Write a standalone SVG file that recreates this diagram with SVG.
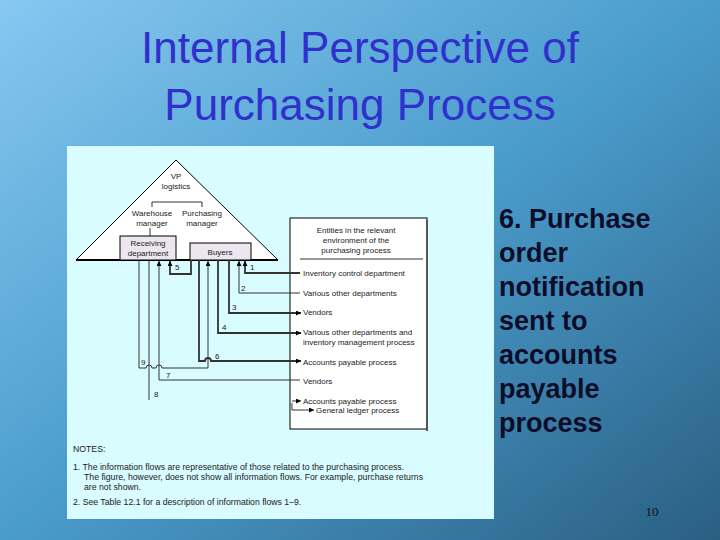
<svg xmlns="http://www.w3.org/2000/svg" width="720" height="540" viewBox="0 0 720 540">
<defs>
<linearGradient id="bg" x1="0" y1="0" x2="1" y2="1">
<stop offset="0" stop-color="#86c8f0"/><stop offset="0.5" stop-color="#4a9ccc"/><stop offset="1" stop-color="#2a5f82"/>
</linearGradient>
<marker id="ah" viewBox="0 0 6 6" refX="6" refY="3" markerWidth="6" markerHeight="5" markerUnits="userSpaceOnUse" orient="auto"><path d="M0,0L6,3L0,6z" fill="#000"/></marker>
</defs>
<style>
.t{font-family:"Liberation Sans",Arial,sans-serif;fill:#222;font-size:8px}
.n{font-size:8.7px}
.c{text-anchor:middle}
.f{fill:none;stroke:#333;stroke-width:1}
.th{stroke-width:1.8}
.a{marker-end:url(#ah)}
.title{font-family:"Liberation Sans",Arial,sans-serif;font-size:44px;fill:#3030cc;text-anchor:middle}
.side{font-family:"Liberation Sans",Arial,sans-serif;font-size:27px;font-weight:bold;fill:#0d0d2a}
</style>
<rect width="720" height="540" fill="url(#bg)"/>
<text class="title" x="360" y="63">Internal Perspective of</text>
<text class="title" x="360" y="120">Purchasing Process</text>
<rect x="67" y="146" width="427" height="373" fill="#d8fcff"/>
<g id="org">
<path d="M176,160 L278,260 L76,260 Z" fill="#fff" stroke="#000" stroke-width="1"/>
<line x1="76" y1="260" x2="278" y2="260" stroke="#000" stroke-width="2"/>
<text class="t c" x="176" y="179">VP</text><text class="t c" x="176" y="189">logistics</text>
<path class="f" d="M152,207 V202 H202 V207"/>
<text class="t c" x="152" y="216">Warehouse</text><text class="t c" x="152" y="226">manager</text>
<text class="t c" x="202" y="216">Purchasing</text><text class="t c" x="202" y="226">manager</text>
<line class="f" x1="150" y1="228" x2="150" y2="236"/>
</g>
<g id="receiving"><rect x="120" y="236" width="56" height="24" fill="#ece6ee" stroke="#000"/>
<text class="t c" x="148" y="246">Receiving</text><text class="t c" x="148" y="256">department</text></g>
<g id="buyers"><rect x="190" y="243" width="61" height="17" fill="#ece6ee" stroke="#000"/>
<text class="t c" x="220" y="255">Buyers</text></g>
<g id="entities">
<rect x="290" y="218" width="137" height="211" fill="#fff" stroke="#000"/>
<line x1="427" y1="220" x2="427" y2="431" stroke="#555" stroke-width="2"/>
<text class="t c" x="356" y="233">Entities in the relevant</text>
<text class="t c" x="356" y="243">environment of the</text>
<text class="t c" x="356" y="253">purchasing process</text>
<line class="f" x1="300" y1="259" x2="423" y2="259"/>
<text class="t" x="303" y="276">Inventory control department</text>
<text class="t" x="303" y="296">Various other departments</text>
<text class="t" x="303" y="315">Vendors</text>
<text class="t" x="303" y="335">Various other departments and</text>
<text class="t" x="303" y="345">inventory management process</text>
<text class="t" x="303" y="365">Accounts payable process</text>
<text class="t" x="303" y="384">Vendors</text>
<text class="t" x="303" y="404">Accounts payable process</text>
<text class="t" x="316" y="413">General ledger process</text>
</g>
<g id="connectors">
<path class="f th a" d="M300,273 H245 V261"/>
<path class="f a" d="M300,293 H239 V261"/>
<path class="f th a" d="M229,260 V313 H301"/>
<path class="f th a" d="M218,260 V333 H301"/>
<path class="f th a" d="M199,260 V361 H205 A3,3 0 0 1 211,361 H301"/>
<path class="f th a" d="M191,260 V274 H170 V261"/>
<path class="f a" d="M139,260 V368 H146 A3,3 0 0 1 152,368 H156 A3,3 0 0 1 162,368 H208 V261"/>
<path class="f a" d="M300,380 H159 V261"/>
<path class="f" d="M149,260 V400"/>
<path class="f a" d="M292,401 H301"/>
<path class="f a" d="M292,403 V410 H314"/>
<text class="t" x="250" y="270">1</text><text class="t" x="241" y="291">2</text>
<text class="t" x="232" y="310">3</text><text class="t" x="222" y="330">4</text>
<text class="t" x="175" y="270">5</text><text class="t" x="215" y="359">6</text>
<text class="t" x="166" y="378">7</text><text class="t" x="154" y="397">8</text>
<text class="t" x="141" y="365">9</text>
</g>
<g id="notes">
<text class="t n" x="73" y="452">NOTES:</text>
<text class="t n" x="73" y="470">1.  The information flows are representative of those related to the purchasing process.</text>
<text class="t n" x="84" y="480">The figure, however, does not show all information flows.  For example, purchase returns</text>
<text class="t n" x="84" y="490">are not shown.</text>
<text class="t n" x="73" y="505">2.  See Table 12.1 for a description of information flows 1–9.</text>
</g>
<g id="side">
<text class="side" x="499" y="228">6. Purchase</text>
<text class="side" x="499" y="262">order</text>
<text class="side" x="499" y="296">notification</text>
<text class="side" x="499" y="330">sent to</text>
<text class="side" x="499" y="364">accounts</text>
<text class="side" x="499" y="398">payable</text>
<text class="side" x="499" y="432">process</text>
</g>
<text x="652" y="516" font-family="Liberation Serif,serif" font-size="13" fill="#111" text-anchor="middle">10</text>
</svg>
